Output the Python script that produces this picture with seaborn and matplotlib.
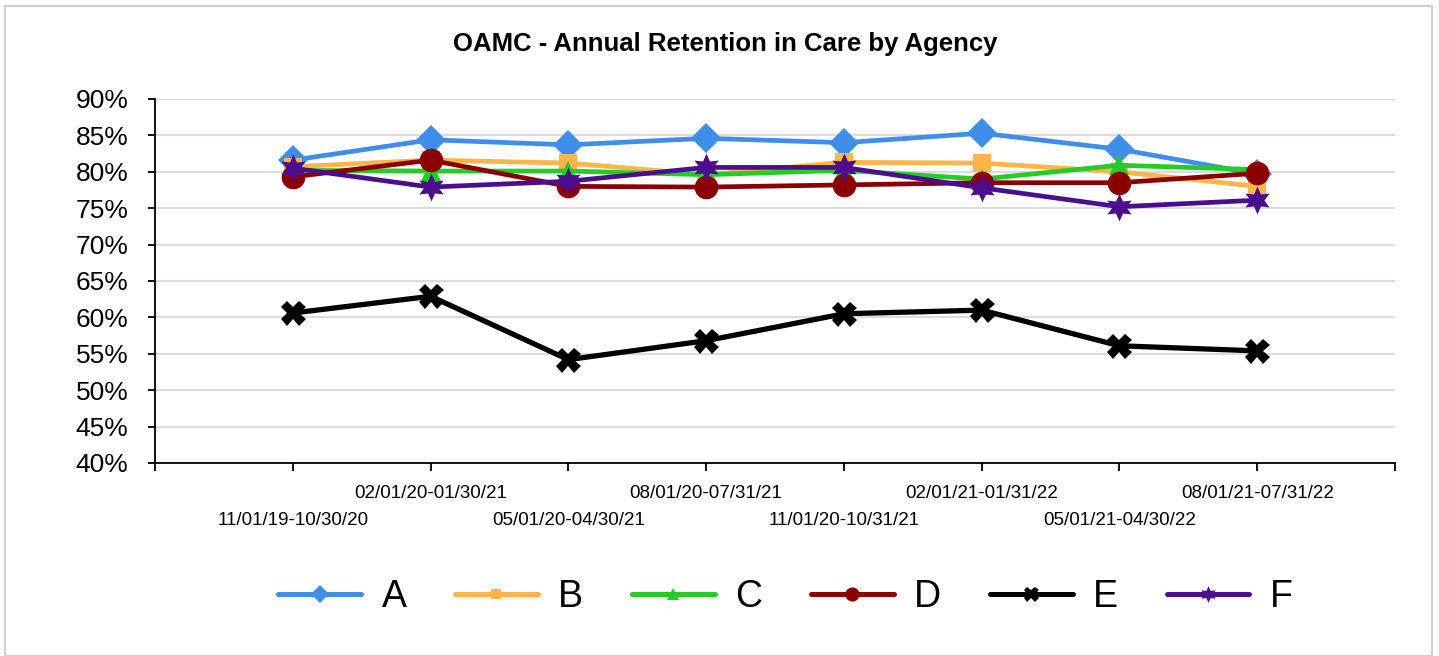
import pandas as pd
import numpy as np
import matplotlib
matplotlib.use("Agg")
import matplotlib.pyplot as plt
import seaborn as sns
from matplotlib.lines import Line2D
from matplotlib.patches import Rectangle

# data
periods = ['11/01/19-10/30/20', '02/01/20-01/30/21', '05/01/20-04/30/21', '08/01/20-07/31/21',
           '11/01/20-10/31/21', '02/01/21-01/31/22', '05/01/21-04/30/22', '08/01/21-07/31/22']
agencies = ['A', 'B', 'C', 'D', 'E', 'F']
a_vals = [81.6, 84.4, 83.7, 84.6, 84.0, 85.3, 83.1, 79.7]
b_vals = [80.7, 81.6, 81.2, 79.6, 81.3, 81.2, 80.0, 78.0]
c_vals = [80.2, 80.1, 80.1, 79.6, 80.2, 79.0, 80.9, 80.3]
d_vals = [79.3, 81.6, 78.0, 77.9, 78.2, 78.5, 78.5, 79.8]
e_vals = [60.6, 62.9, 54.2, 56.8, 60.5, 61.0, 56.1, 55.4]
f_vals = [80.5, 77.9, 78.7, 80.6, 80.6, 77.8, 75.2, 76.1]

colors = {'A': '#3f8fea', 'B': '#fdb449', 'C': '#26cc26', 'D': '#8b0000', 'E': '#000000', 'F': '#4b0e8e'}
markers = {'A': 'D', 'B': 's', 'C': '^', 'D': 'o', 'E': 'X', 'F': (6, 1, 0)}
msizes = {'A': 15, 'B': 13, 'C': 14, 'D': 17, 'E': 18, 'F': 20}

series = [a_vals, b_vals, c_vals, d_vals, e_vals, f_vals]
rows = []
for name, vals in zip(agencies, series):
    for i, v in enumerate(vals):
        rows.append({'x': i + 1, 'value': v, 'agency': name})
df = pd.DataFrame(rows)

sns.set_style('white')
plt.rcParams['font.family'] = ['Liberation Sans', 'DejaVu Sans']
plt.rcParams['text.color'] = 'black'
plt.rcParams['xtick.color'] = 'black'
plt.rcParams['ytick.color'] = 'black'

fig = plt.figure(figsize=(14.39, 6.56), dpi=100)
ax = fig.add_axes([155 / 1439, 1 - 463 / 656, (1395 - 155) / 1439, (463 - 99) / 656])

for name in agencies:
    sub = df[df['agency'] == name]
    sns.lineplot(data=sub, x='x', y='value', color=colors[name], marker=markers[name],
                 markersize=msizes[name], markeredgewidth=0,
                 linewidth=3.8 if name == 'E' else 3.4,
                 ax=ax, legend=False, zorder=3)

ax.set_xlim(0, 9)
ax.set_ylim(40, 90)
ax.set_yticks(np.arange(40, 91, 5))
ax.set_yticklabels([f'{v}%' for v in range(40, 91, 5)], fontsize=19)
ax.yaxis.grid(True, color='#dcdcdc', linewidth=1.5)
ax.set_axisbelow(True)

# staggered x labels: odd ones on the lower row
ax.set_xticks([1, 3, 5, 7])
ax.set_xticklabels([periods[i] for i in [0, 2, 4, 6]], fontsize=13.5)
ax.set_xticks([0, 2, 4, 6, 8, 9], minor=True)
ax.set_xticklabels(['', periods[1], periods[3], periods[5], periods[7], ''], minor=True, fontsize=13.5)
ax.tick_params(axis='x', which='major', length=6, width=1.3, pad=29, direction='out', bottom=True)
ax.tick_params(axis='x', which='minor', length=6, width=1.3, pad=10, direction='out', bottom=True)
ax.tick_params(axis='y', length=5, width=1.3, direction='out', left=True, pad=14)

ax.set_xlabel('')
ax.set_ylabel('')
for s in ['top', 'right']:
    ax.spines[s].set_visible(False)
for s in ['left', 'bottom']:
    ax.spines[s].set_color('black')
    ax.spines[s].set_linewidth(1.3)

fig.text(0.504, 1 - 44 / 656, 'OAMC - Annual Retention in Care by Agency',
         ha='center', va='center', fontsize=18.5, fontweight='bold')

handles = [Line2D([0], [0], color=colors[n], marker=markers[n], markersize=msizes[n] * 0.6,
                  markeredgewidth=0, linewidth=3.6) for n in agencies]
fig.legend(handles, agencies, loc='center', bbox_to_anchor=(0.546, 1 - 597 / 656), ncol=6,
           frameon=False, fontsize=27, handlelength=2.2, handletextpad=0.55, columnspacing=1.3)

fig.patches.append(Rectangle((5 / 1439, 0), 1427 / 1439, 1 - 6 / 656, transform=fig.transFigure,
                             fill=False, edgecolor='#cfcfcf', linewidth=1.5))

fig.savefig('out.png', dpi=100, facecolor='white')
